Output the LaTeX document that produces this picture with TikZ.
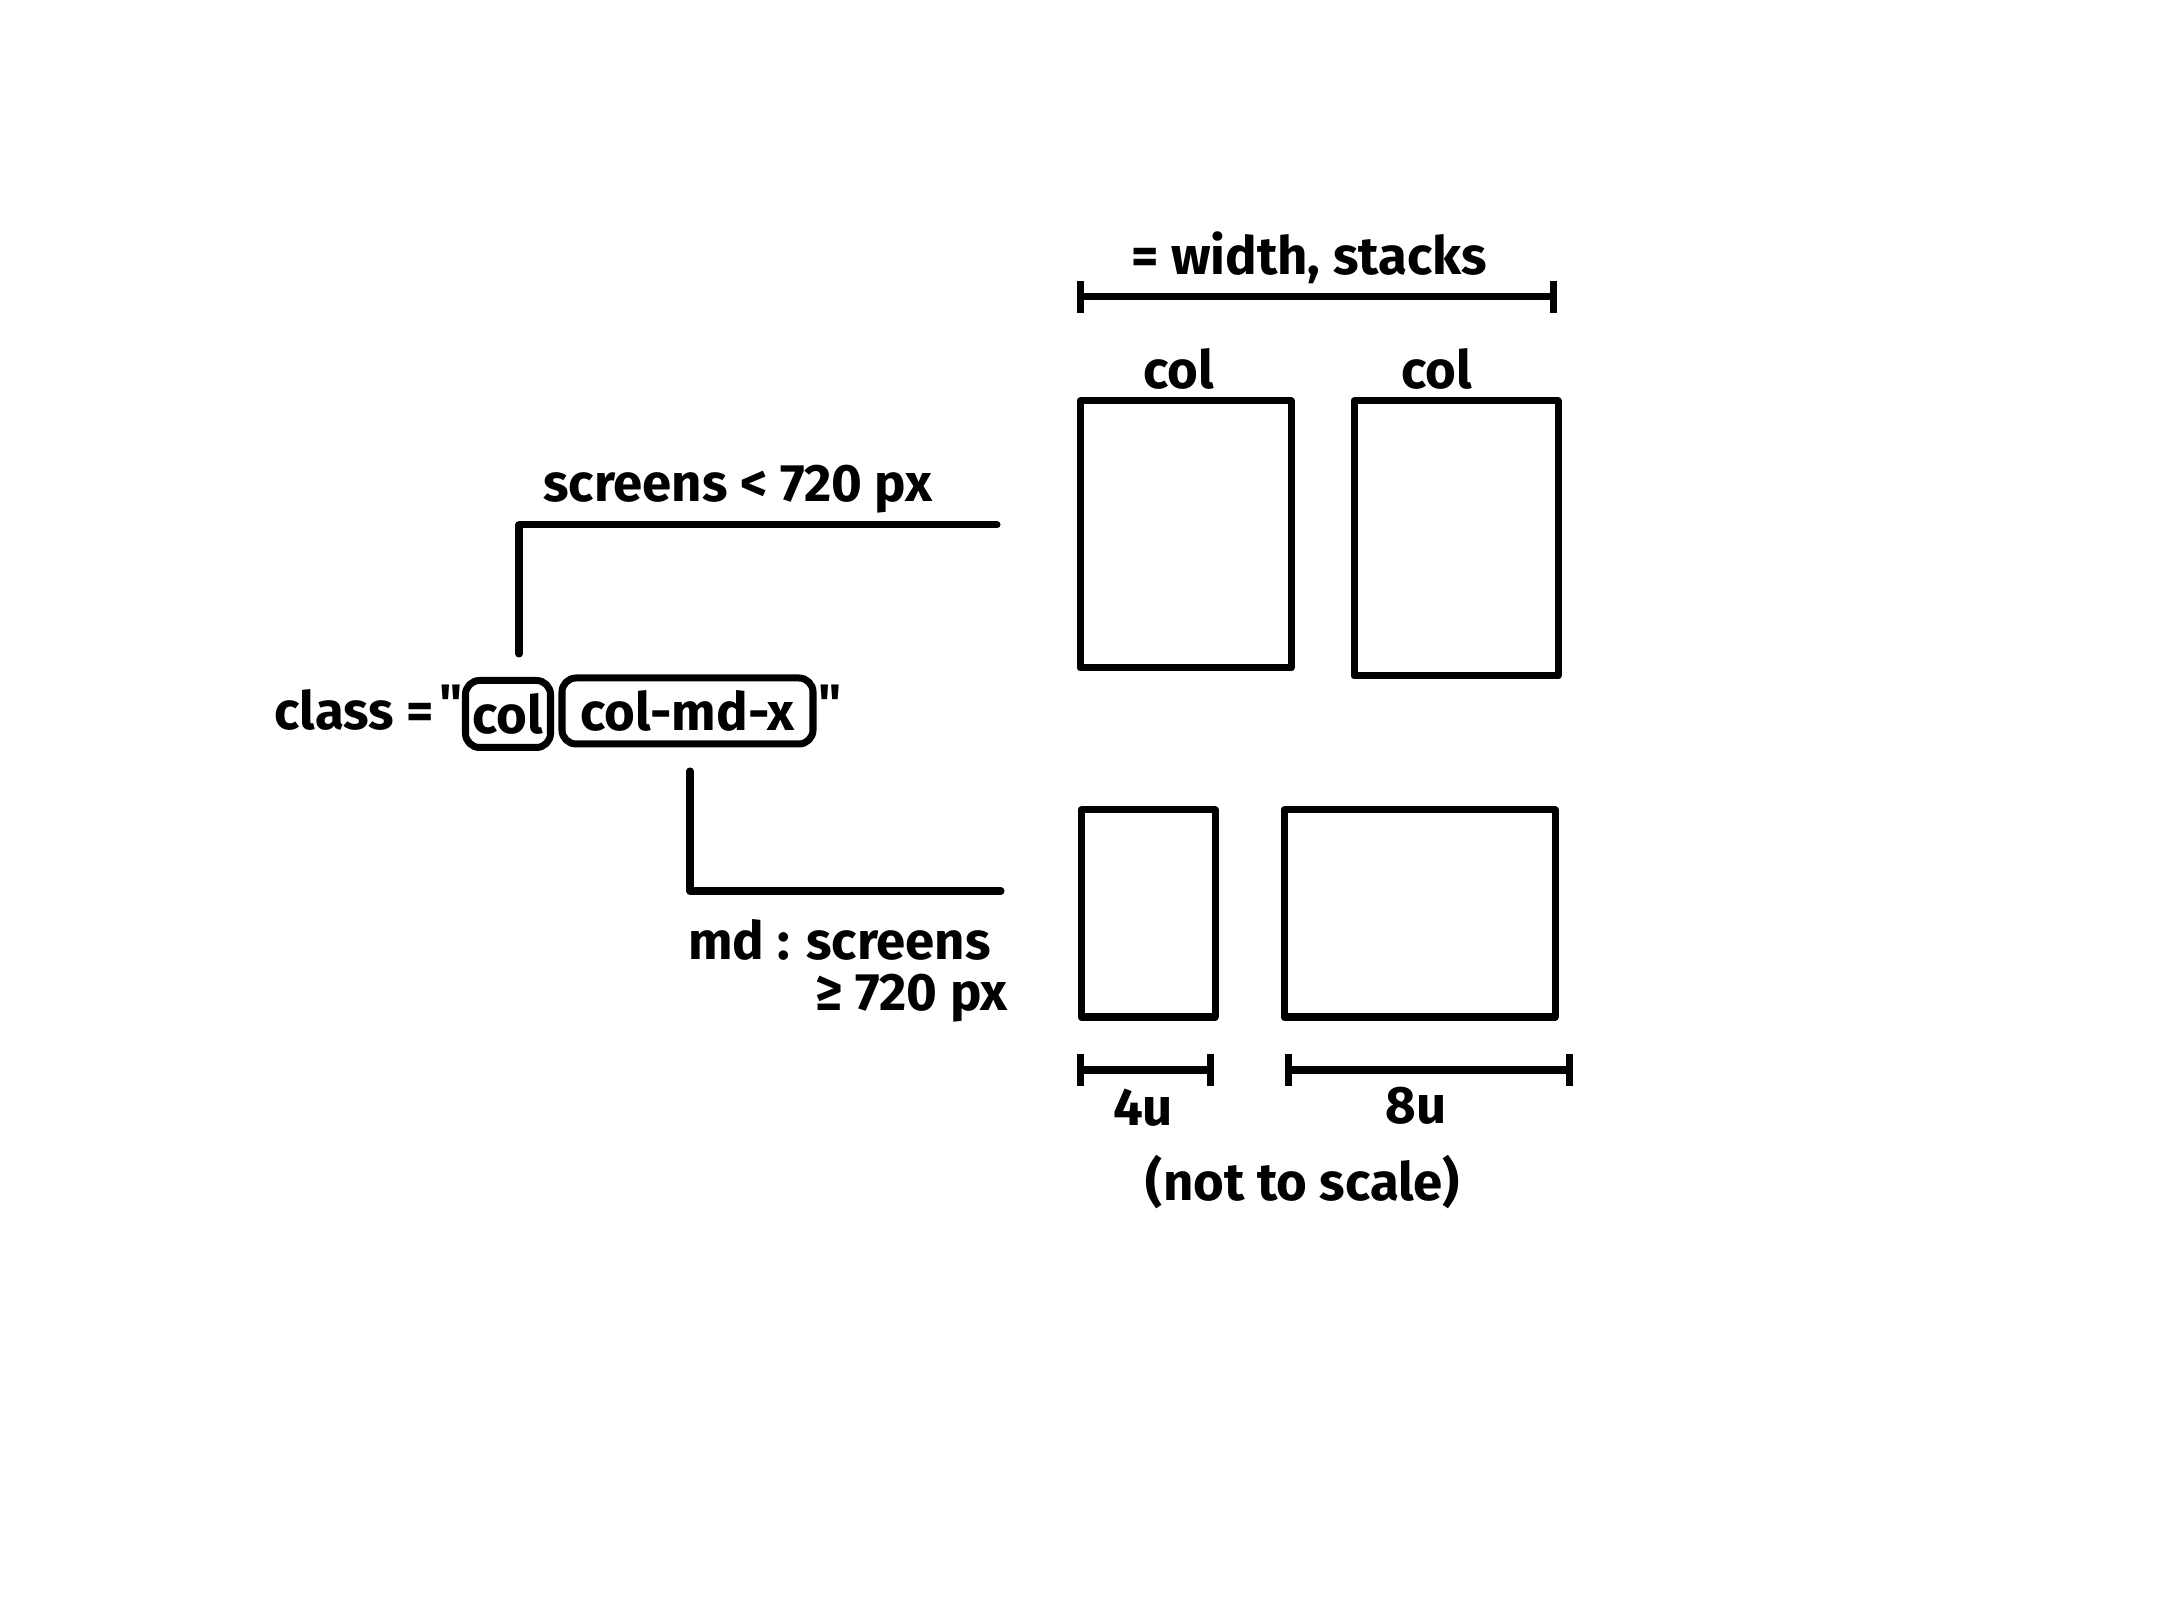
\documentclass[tikz,border=0pt]{standalone}
\usepackage{fontspec}
\newfontfamily\handfont{Fira Sans}
\usetikzlibrary{arrows.meta}
\begin{document}
\begin{tikzpicture}[
  pen/.style={line width=2pt, line cap=round, line join=round},
  hand/.style={font=\handfont\fontsize{15}{18}\selectfont\bfseries, inner sep=1pt},
  colbox/.style={pen, draw, minimum width=#1, inner sep=0pt},
  tagbox/.style={pen, draw, rounded corners=4pt, inner sep=0pt, minimum height=0.66cm, minimum width=#1},
  dim/.style={pen, {Bar[width=0.32cm]}-{Bar[width=0.32cm]}}
]
\useasboundingbox (0,0) rectangle (21.6,16.2);

% the class attribute
\node[hand, anchor=base east] (cls) at (4.38,8.90) {class =};
\node[hand, anchor=base west, inner sep=0pt] (oq) at (4.39,8.98) {"};
\node[hand, tagbox=0.85cm, minimum height=0.67cm] (tcol) at (5.08,9.06) {col};
\node[hand, tagbox=2.51cm] (tmd) at (6.875,9.09) {col-md-x};
\node[hand, anchor=base west, inner sep=0pt] (cq) at (8.18,8.98) {"};

% small screens
\coordinate (s1) at (5.19,9.66);
\coordinate (s2) at (5.19,10.95);
\coordinate (s3) at (9.97,10.95);
\draw[pen] (s1)--(s2)--(s3);
\node[hand] (small) at (7.38,11.31) {screens < 720 px};

% md screens
\coordinate (m1) at (6.90,8.49);
\coordinate (m2) at (6.90,7.29);
\coordinate (m3) at (10.01,7.29);
\draw[pen] (m1)--(m2)--(m3);
\node[hand, anchor=east] (md) at (9.95,6.80) {md : screens};
\node[hand, anchor=east] (mdpx) at (10.12,6.22) {≥ 720 px};

% stacked columns
\node[colbox=2.11cm, minimum height=2.67cm] (b1) at (11.855,10.855) {};
\node[colbox=2.04cm, minimum height=2.75cm] (b2) at (14.56,10.815) {};
\node[hand] (c1) at (11.79,12.51) {col};
\node[hand] (c2) at (14.37,12.51) {col};
\coordinate (w1) at (10.77,13.23);
\coordinate (w2) at (15.57,13.23);
\draw[dim] (w1)--(w2);
\node[hand] (eq) at (13.09,13.62) {= width, stacks};

% md columns
\node[colbox=1.34cm, minimum height=2.07cm] (b3) at (11.48,7.065) {};
\node[colbox=2.71cm, minimum height=2.07cm] (b4) at (14.195,7.065) {};
\coordinate (u1) at (10.77,5.50);
\coordinate (u2) at (12.14,5.50);
\coordinate (u3) at (12.85,5.50);
\coordinate (u4) at (15.73,5.50);
\draw[dim] (u1)--(u2);
\draw[dim] (u3)--(u4);
\node[hand] (four) at (11.43,5.12) {4u};
\node[hand] (eight) at (14.16,5.14) {8u};
\node[hand] (note) at (13.03,4.38) {(not to scale)};
\end{tikzpicture}
\end{document}
